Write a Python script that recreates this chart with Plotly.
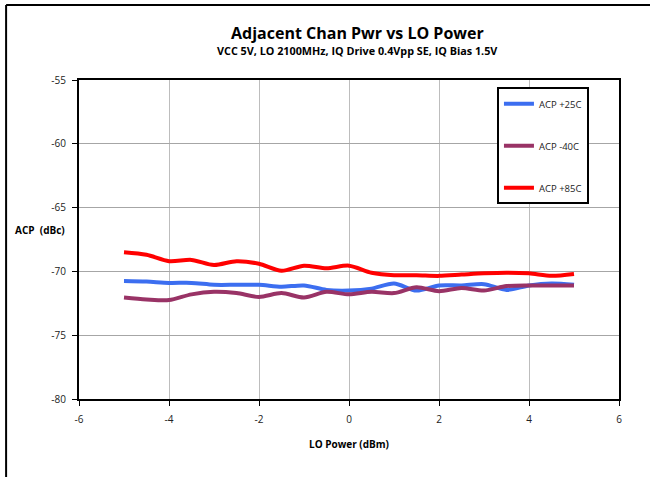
import plotly.graph_objects as go

lo_power = [-5, -4.5, -4, -3.5, -3, -2.5, -2, -1.5, -1, -0.5, 0, 0.5, 1, 1.5, 2, 2.5, 3, 3.5, 4, 4.5, 5]
acp_25c = [-70.75, -70.8, -70.9, -70.9, -71.05, -71.05, -71.05, -71.2, -71.1, -71.45, -71.5, -71.35, -70.95, -71.5, -71.1, -71.1, -71.0, -71.45, -71.1, -70.95, -71.05]
acp_m40c = [-72.05, -72.2, -72.25, -71.8, -71.6, -71.7, -72.0, -71.7, -72.05, -71.6, -71.8, -71.6, -71.7, -71.25, -71.55, -71.3, -71.5, -71.15, -71.1, -71.1, -71.1]
acp_85c = [-68.5, -68.7, -69.2, -69.1, -69.5, -69.2, -69.4, -69.95, -69.55, -69.75, -69.55, -70.1, -70.3, -70.3, -70.35, -70.25, -70.15, -70.1, -70.15, -70.35, -70.2]

series_names = ["ACP +25C", "ACP -40C", "ACP +85C"]
series_colors = ["#3C6EF0", "#993366", "#FF0000"]
x_ticks = [-6, -4, -2, 0, 2, 4, 6]
y_ticks = [-80, -75, -70, -65, -60, -55]

FONT = "Open Sans"

fig = go.Figure()
for i, (name, ys, col) in enumerate(zip(series_names, [acp_25c, acp_m40c, acp_85c], series_colors)):
    fig.add_trace(go.Scatter(
        x=lo_power, y=ys, name=name, mode="lines",
        line=dict(color=col, width=4, shape="spline", smoothing=0.8),
        legendgroup=f"g{i}",
    ))

fig.update_layout(
    width=650, height=477,
    margin=dict(l=79, r=31, t=80, b=78),
    paper_bgcolor="white", plot_bgcolor="white",
    font=dict(family=FONT, size=10, color="#222"),
    showlegend=True,
    legend=dict(
        x=0.774, y=0.977, xanchor="left", yanchor="top",
        bordercolor="black", borderwidth=2, bgcolor="white",
        font=dict(family=FONT, size=9.5, color="#222"),
        tracegroupgap=23, itemwidth=30,
    ),
    xaxis=dict(
        range=[-6, 6], tickvals=x_ticks, ticktext=[str(v) for v in x_ticks],
        showgrid=True, gridcolor="#bdbdbd", gridwidth=1,
        showline=True, linecolor="black", linewidth=2, mirror=True,
        ticks="outside", ticklen=5, tickcolor="black", tickwidth=1,
        ticklabelstandoff=5,
        zeroline=False, tickfont=dict(size=10, color="#222"),
        title=dict(text="<b>LO Power (dBm)</b>", font=dict(size=10, color="black"), standoff=16),
    ),
    yaxis=dict(
        range=[-80, -55], tickvals=y_ticks, ticktext=[str(v) for v in y_ticks],
        showgrid=True, gridcolor="#a6a6a6", gridwidth=1,
        showline=True, linecolor="black", linewidth=2, mirror=True,
        ticks="outside", ticklen=5, tickcolor="black", tickwidth=1,
        ticklabelstandoff=4,
        zeroline=False, tickfont=dict(size=10, color="#222"),
    ),
    annotations=[
        dict(text="<b>Adjacent Chan Pwr vs LO Power</b>", xref="paper", yref="paper",
             x=0.515, y=1.147, xanchor="center", yanchor="middle", showarrow=False,
             font=dict(family=FONT, size=16, color="black")),
        dict(text="<b>VCC 5V, LO 2100MHz, IQ Drive 0.4Vpp SE, IQ Bias 1.5V</b>", xref="paper", yref="paper",
             x=0.515, y=1.094, xanchor="center", yanchor="middle", showarrow=False,
             font=dict(family=FONT, size=10.8, color="black")),
        dict(text="<b>ACP  (dBc)</b>", xref="paper", yref="paper",
             x=-0.073, y=0.53, xanchor="center", yanchor="middle", showarrow=False,
             font=dict(family=FONT, size=10, color="black")),
    ],
    shapes=[
        dict(type="line", xref="paper", yref="paper", x0=-0.135, x1=1.06, y0=1.235, y1=1.235,
             line=dict(color="black", width=2)),
        dict(type="line", xref="paper", yref="paper", x0=-0.135, x1=-0.135, y0=-0.3, y1=1.235,
             line=dict(color="black", width=2)),
    ],
)

fig.write_html(
    "out.html", config={"displayModeBar": False},
    post_script="document.body.style.margin='0px';document.body.style.overflow='hidden';document.documentElement.style.overflow='hidden';",
)
